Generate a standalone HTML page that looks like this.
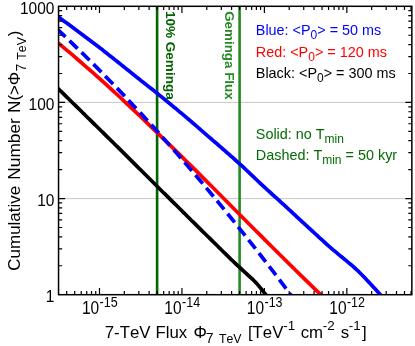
<!DOCTYPE html>
<html><head><meta charset="utf-8"><title>Cumulative Number vs 7-TeV Flux</title>
<style>
html,body{margin:0;padding:0;background:#fff;}
svg{display:block;will-change:transform;font-family:"Liberation Sans",Arial,Helvetica,sans-serif;font-kerning:none;}
</style></head><body>
<svg width="415" height="346" viewBox="0 0 415 346">
<rect width="415" height="346" fill="#fff"/>
<path d="M58.55,198.6 H411.9 M58.55,102.4 H411.9" stroke="#c8c8c8" stroke-width="1" fill="none"/>
<clipPath id="c"><rect x="58.55" y="6.3" width="353.3" height="288.4"/></clipPath>
<g clip-path="url(#c)" fill="none" stroke-linejoin="round">
<path d="M157.1,6.3 V294.7" stroke="#006400" stroke-width="2.6"/>
<path d="M239.6,6.3 V294.7" stroke="#228b22" stroke-width="2.6"/>
<path d="M54.8,85.3 L56.8,87.2 L58.8,89.2 L60.8,91.2 L62.8,93.1 L64.8,95.1 L66.8,97.1 L68.8,99.0 L70.8,101.0 L72.8,103.0 L74.8,104.9 L76.8,106.9 L78.8,108.8 L80.8,110.8 L82.8,112.8 L84.8,114.7 L86.8,116.7 L88.8,118.7 L90.8,120.6 L92.8,122.6 L94.8,124.6 L96.8,126.5 L98.8,128.5 L100.8,130.5 L102.8,132.4 L104.8,134.4 L106.8,136.4 L108.8,138.3 L110.8,140.3 L112.8,142.2 L114.8,144.2 L116.8,146.2 L118.8,148.1 L120.8,150.1 L122.8,152.1 L124.8,154.1 L126.8,156.1 L128.8,158.1 L130.8,160.1 L132.8,162.1 L134.8,164.1 L136.8,166.1 L138.8,168.1 L140.8,170.0 L142.8,172.0 L144.8,174.0 L146.8,176.0 L148.8,178.0 L150.8,180.0 L152.8,182.0 L154.8,184.0 L156.8,186.0 L158.8,188.0 L160.8,190.0 L162.8,192.0 L164.8,193.9 L166.8,195.9 L168.8,197.9 L170.8,199.9 L172.8,201.9 L174.8,203.8 L176.8,205.8 L178.8,207.8 L180.8,209.8 L182.8,211.8 L184.8,213.7 L186.8,215.7 L188.8,217.7 L190.8,219.7 L192.8,221.7 L194.8,223.6 L196.8,225.6 L198.8,227.6 L200.8,229.6 L202.8,231.6 L204.8,233.5 L206.8,235.5 L208.8,237.4 L210.8,239.4 L212.8,241.4 L214.8,243.3 L216.8,245.3 L218.8,247.3 L220.8,249.2 L222.8,251.2 L224.8,253.2 L226.8,255.1 L228.8,257.1 L230.8,259.1 L232.8,261.0 L234.8,262.9 L236.8,264.8 L238.8,266.7 L240.8,268.5 L242.8,270.3 L244.8,272.2 L246.8,274.0 L248.8,275.8 L250.8,277.7 L252.8,279.5 L254.8,281.5 L256.8,283.6 L258.8,285.9 L260.8,288.4 L262.8,290.9 L264.8,293.4 L266.8,295.9 L268.8,298.4" stroke="#000" stroke-width="3.7"/>
<path d="M55.8,41.0 L58.8,43.5 L65.5,49.1 L72.2,54.7 L78.9,60.5 L85.6,66.3 L92.3,72.2 L99.0,78.2 L105.8,84.2 L112.5,90.4 L119.2,96.5 L125.9,102.8 L132.6,109.1 L139.3,115.4 L146.0,121.8 L152.7,128.3 L159.4,134.8 L166.1,141.3 L172.8,147.8 L179.5,154.4 L186.2,161.1 L193.0,167.7 L199.7,174.4 L206.4,181.1 L213.1,187.8 L219.8,194.5 L226.5,201.3 L233.2,208.0 L239.9,214.7 L246.6,221.5 L253.3,228.2 L260.0,234.9 L266.7,241.6 L273.4,248.3 L280.2,255.0 L286.9,261.6 L293.6,268.3 L300.3,274.9 L307.0,281.4 L313.7,287.9 L320.4,294.4 L323.4,297.3" stroke="#f00" stroke-width="3.7"/>
<path d="M55.8,27.7 L58.8,30.6 L64.7,36.2 L70.7,41.9 L76.6,47.6 L82.6,53.4 L88.5,59.2 L94.4,65.1 L100.4,71.1 L106.3,77.2 L112.3,83.3 L118.2,89.4 L124.2,95.6 L130.1,101.9 L136.0,108.2 L142.0,114.6 L147.9,121.1 L153.9,127.6 L159.8,134.2 L165.7,140.9 L171.7,147.6 L177.6,154.3 L183.6,161.2 L189.5,168.1 L195.4,175.0 L201.4,182.0 L207.3,189.1 L213.3,196.2 L219.2,203.4 L225.1,210.7 L231.1,218.0 L237.0,225.4 L243.0,232.8 L248.9,240.3 L254.9,247.9 L260.8,255.5 L266.7,263.2 L272.7,270.9 L278.6,278.7 L284.6,286.6 L290.5,294.5 L293.5,298.5" stroke="#00f" stroke-width="3.7" stroke-dasharray="11.2,5.55" stroke-dashoffset="-2.2"/>
<path d="M54.8,14.2 L56.8,15.7 L58.8,17.2 L60.8,18.7 L62.8,20.2 L64.8,21.7 L66.8,23.1 L68.8,24.6 L70.8,26.1 L72.8,27.6 L74.8,29.1 L76.8,30.6 L78.8,32.1 L80.8,33.5 L82.8,35.0 L84.8,36.5 L86.8,38.0 L88.8,39.5 L90.8,41.0 L92.8,42.5 L94.8,44.0 L96.8,45.5 L98.8,47.0 L100.8,48.6 L102.8,50.1 L104.8,51.7 L106.8,53.3 L108.8,54.9 L110.8,56.4 L112.8,58.0 L114.8,59.6 L116.8,61.2 L118.8,62.8 L120.8,64.4 L122.8,66.0 L124.8,67.6 L126.8,69.2 L128.8,70.8 L130.8,72.4 L132.8,74.0 L134.8,75.6 L136.8,77.2 L138.8,78.8 L140.8,80.4 L142.8,81.9 L144.8,83.5 L146.8,85.1 L148.8,86.7 L150.8,88.2 L152.8,89.8 L154.8,91.4 L156.8,93.0 L158.8,94.6 L160.8,96.3 L162.8,97.9 L164.8,99.5 L166.8,101.2 L168.8,102.8 L170.8,104.5 L172.8,106.1 L174.8,107.8 L176.8,109.4 L178.8,111.1 L180.8,112.8 L182.8,114.4 L184.8,116.1 L186.8,117.8 L188.8,119.5 L190.8,121.2 L192.8,123.0 L194.8,124.7 L196.8,126.4 L198.8,128.1 L200.8,129.9 L202.8,131.6 L204.8,133.3 L206.8,135.1 L208.8,136.8 L210.8,138.5 L212.8,140.3 L214.8,142.0 L216.8,143.7 L218.8,145.5 L220.8,147.2 L222.8,149.0 L224.8,150.7 L226.8,152.5 L228.8,154.2 L230.8,156.0 L232.8,157.7 L234.8,159.5 L236.8,161.3 L238.8,163.1 L240.8,164.9 L242.8,166.7 L244.8,168.6 L246.8,170.5 L248.8,172.4 L250.8,174.3 L252.8,176.2 L254.8,178.1 L256.8,180.0 L258.8,181.9 L260.8,183.8 L262.8,185.7 L264.8,187.5 L266.8,189.4 L268.8,191.2 L270.8,193.0 L272.8,194.8 L274.8,196.6 L276.8,198.4 L278.8,200.2 L280.8,202.1 L282.8,203.9 L284.8,205.7 L286.8,207.5 L288.8,209.4 L290.8,211.2 L292.8,213.1 L294.8,214.9 L296.8,216.8 L298.8,218.6 L300.8,220.5 L302.8,222.3 L304.8,224.1 L306.8,226.0 L308.8,227.8 L310.8,229.7 L312.8,231.5 L314.8,233.4 L316.8,235.2 L318.8,237.1 L320.8,238.9 L322.8,240.7 L324.8,242.5 L326.8,244.3 L328.8,246.1 L330.8,247.8 L332.8,249.6 L334.8,251.2 L336.8,252.9 L338.8,254.6 L340.8,256.2 L342.8,257.8 L344.8,259.5 L346.8,261.1 L348.8,262.8 L350.8,264.5 L352.8,266.2 L354.8,268.0 L356.8,269.8 L358.8,271.7 L360.8,273.7 L362.8,275.7 L364.8,277.8 L366.8,280.0 L368.8,282.1 L370.8,284.3 L372.8,286.4 L374.8,288.6 L376.8,290.8 L378.8,293.0 L380.8,295.2 L382.8,297.3" stroke="#00f" stroke-width="3.7"/>
</g>
<path d="M66.69,294.7 v-3.6 M66.69,6.3 v3.6 M74.68,294.7 v-3.6 M74.68,6.3 v3.6 M81.21,294.7 v-3.6 M81.21,6.3 v3.6 M86.73,294.7 v-3.6 M86.73,6.3 v3.6 M91.51,294.7 v-3.6 M91.51,6.3 v3.6 M95.73,294.7 v-3.6 M95.73,6.3 v3.6 M99.50,294.7 v-6.6 M99.50,6.3 v6.6 M124.32,294.7 v-3.6 M124.32,6.3 v3.6 M138.84,294.7 v-3.6 M138.84,6.3 v3.6 M149.14,294.7 v-3.6 M149.14,6.3 v3.6 M157.13,294.7 v-3.6 M157.13,6.3 v3.6 M163.66,294.7 v-3.6 M163.66,6.3 v3.6 M169.18,294.7 v-3.6 M169.18,6.3 v3.6 M173.96,294.7 v-3.6 M173.96,6.3 v3.6 M178.18,294.7 v-3.6 M178.18,6.3 v3.6 M181.95,294.7 v-6.6 M181.95,6.3 v6.6 M206.77,294.7 v-3.6 M206.77,6.3 v3.6 M221.29,294.7 v-3.6 M221.29,6.3 v3.6 M231.59,294.7 v-3.6 M231.59,6.3 v3.6 M239.58,294.7 v-3.6 M239.58,6.3 v3.6 M246.11,294.7 v-3.6 M246.11,6.3 v3.6 M251.63,294.7 v-3.6 M251.63,6.3 v3.6 M256.41,294.7 v-3.6 M256.41,6.3 v3.6 M260.63,294.7 v-3.6 M260.63,6.3 v3.6 M264.40,294.7 v-6.6 M264.40,6.3 v6.6 M289.22,294.7 v-3.6 M289.22,6.3 v3.6 M303.74,294.7 v-3.6 M303.74,6.3 v3.6 M314.04,294.7 v-3.6 M314.04,6.3 v3.6 M322.03,294.7 v-3.6 M322.03,6.3 v3.6 M328.56,294.7 v-3.6 M328.56,6.3 v3.6 M334.08,294.7 v-3.6 M334.08,6.3 v3.6 M338.86,294.7 v-3.6 M338.86,6.3 v3.6 M343.08,294.7 v-3.6 M343.08,6.3 v3.6 M346.85,294.7 v-6.6 M346.85,6.3 v6.6 M371.67,294.7 v-3.6 M371.67,6.3 v3.6 M386.19,294.7 v-3.6 M386.19,6.3 v3.6 M396.49,294.7 v-3.6 M396.49,6.3 v3.6 M404.48,294.7 v-3.6 M404.48,6.3 v3.6 M411.01,294.7 v-3.6 M411.01,6.3 v3.6 M58.55,265.76 h3.6 M411.9,265.76 h-3.6 M58.55,248.83 h3.6 M411.9,248.83 h-3.6 M58.55,236.82 h3.6 M411.9,236.82 h-3.6 M58.55,227.51 h3.6 M411.9,227.51 h-3.6 M58.55,219.89 h3.6 M411.9,219.89 h-3.6 M58.55,213.46 h3.6 M411.9,213.46 h-3.6 M58.55,207.88 h3.6 M411.9,207.88 h-3.6 M58.55,202.97 h3.6 M411.9,202.97 h-3.6 M58.55,198.57 h6.6 M411.9,198.57 h-6.6 M58.55,169.63 h3.6 M411.9,169.63 h-3.6 M58.55,152.70 h3.6 M411.9,152.70 h-3.6 M58.55,140.69 h3.6 M411.9,140.69 h-3.6 M58.55,131.37 h3.6 M411.9,131.37 h-3.6 M58.55,123.76 h3.6 M411.9,123.76 h-3.6 M58.55,117.32 h3.6 M411.9,117.32 h-3.6 M58.55,111.75 h3.6 M411.9,111.75 h-3.6 M58.55,106.83 h3.6 M411.9,106.83 h-3.6 M58.55,102.43 h6.6 M411.9,102.43 h-6.6 M58.55,73.49 h3.6 M411.9,73.49 h-3.6 M58.55,56.57 h3.6 M411.9,56.57 h-3.6 M58.55,44.56 h3.6 M411.9,44.56 h-3.6 M58.55,35.24 h3.6 M411.9,35.24 h-3.6 M58.55,27.63 h3.6 M411.9,27.63 h-3.6 M58.55,21.19 h3.6 M411.9,21.19 h-3.6 M58.55,15.62 h3.6 M411.9,15.62 h-3.6 M58.55,10.70 h3.6 M411.9,10.70 h-3.6" stroke="#000" stroke-width="1.2" fill="none"/>
<rect x="58.55" y="6.3" width="353.3" height="288.4" fill="none" stroke="#000" stroke-width="1.5"/>
<text transform="translate(54.4,302.4) scale(1,1.12)" font-size="15.5" text-anchor="end">1</text><text transform="translate(54.4,206.3) scale(1,1.12)" font-size="15.5" text-anchor="end">10</text><text transform="translate(54.4,110.1) scale(1,1.12)" font-size="15.5" text-anchor="end">100</text><text transform="translate(54.4,14.4) scale(1,1.12)" font-size="15.5" text-anchor="end">1000</text>
<text transform="translate(81.92,314.4) scale(1,1.13)" font-size="15.5" fill="#000">10</text>
<text transform="translate(99.60,306.5) scale(1,1.15)" font-size="12.5" fill="#000">-15</text>
<text transform="translate(164.36,314.4) scale(1,1.13)" font-size="15.5" fill="#000">10</text>
<text transform="translate(182.05,306.5) scale(1,1.15)" font-size="12.5" fill="#000">-14</text>
<text transform="translate(246.81,314.4) scale(1,1.13)" font-size="15.5" fill="#000">10</text>
<text transform="translate(264.50,306.5) scale(1,1.15)" font-size="12.5" fill="#000">-13</text>
<text transform="translate(329.27,314.4) scale(1,1.13)" font-size="15.5" fill="#000">10</text>
<text transform="translate(346.95,306.5) scale(1,1.15)" font-size="12.5" fill="#000">-12</text>
<text x="104.76" y="337.6" font-size="16.8" fill="#000">7-TeV</text>
<text x="155.56" y="337.6" font-size="16.8" fill="#000">Flux</text>
<text x="193.46" y="337.6" font-size="16.8" fill="#000">Φ</text>
<text x="205.80" y="342.5" font-size="14" fill="#000">7</text>
<text x="218.95" y="342.5" font-size="12.3" fill="#000">TeV</text>
<text x="247.92" y="337.6" font-size="16.8" fill="#000">[TeV</text>
<text x="283.26" y="329.7" font-size="13.4" fill="#000">-1</text>
<text x="300.73" y="337.6" font-size="16.8" fill="#000">cm</text>
<text x="322.76" y="329.7" font-size="13.4" fill="#000">-2</text>
<text x="340.86" y="337.6" font-size="16.8" fill="#000">s</text>
<text x="348.76" y="329.7" font-size="13.4" fill="#000">-1</text>
<text x="361.90" y="337.6" font-size="16.8" fill="#000">]</text>
<text transform="translate(19.9,270.75) rotate(-90)" font-size="17.0">Cumulative</text>
<text transform="translate(19.9,179.68) rotate(-90)" font-size="17.3">Number</text>
<text transform="translate(19.9,112.74) rotate(-90)" font-size="16.8">N(&gt;Φ</text>
<text transform="translate(25.6,71.60) rotate(-90)" font-size="14">7</text>
<text transform="translate(25.6,59.65) rotate(-90)" font-size="12.3">TeV</text>
<text transform="translate(19.9,36.30) rotate(-90)" font-size="16.8">)</text>
<text transform="translate(165.5,10.89) rotate(90)" font-size="13.55" font-weight="bold" fill="#006400">10% Geminga</text>
<text transform="translate(224.8,11.16) rotate(90)" font-size="13.4" font-weight="bold" fill="#228b22">Geminga Flux</text>
<text x="255.8" y="35.3" font-size="14.4" fill="#00f">Blue: &lt;P<tspan dy="4" font-size="12">0</tspan><tspan dy="-4">&gt; = 50 ms</tspan></text>
<text x="255.8" y="56.5" font-size="14.4" fill="#f00">Red: &lt;P<tspan dy="4" font-size="12">0</tspan><tspan dy="-4">&gt; = 120 ms</tspan></text>
<text x="255.8" y="77.8" font-size="14.4" fill="#000">Black: &lt;P<tspan dy="4" font-size="12">0</tspan><tspan dy="-4">&gt; = 300 ms</tspan></text>
<text x="255.8" y="138.6" font-size="14.4" fill="#056a05">Solid: no T<tspan dy="4" font-size="12">min</tspan></text>
<text x="255.8" y="160.2" font-size="14.4" fill="#056a05">Dashed: T<tspan dy="4" font-size="12">min</tspan><tspan dy="-4"> = 50 kyr</tspan></text>
</svg>
</body></html>
